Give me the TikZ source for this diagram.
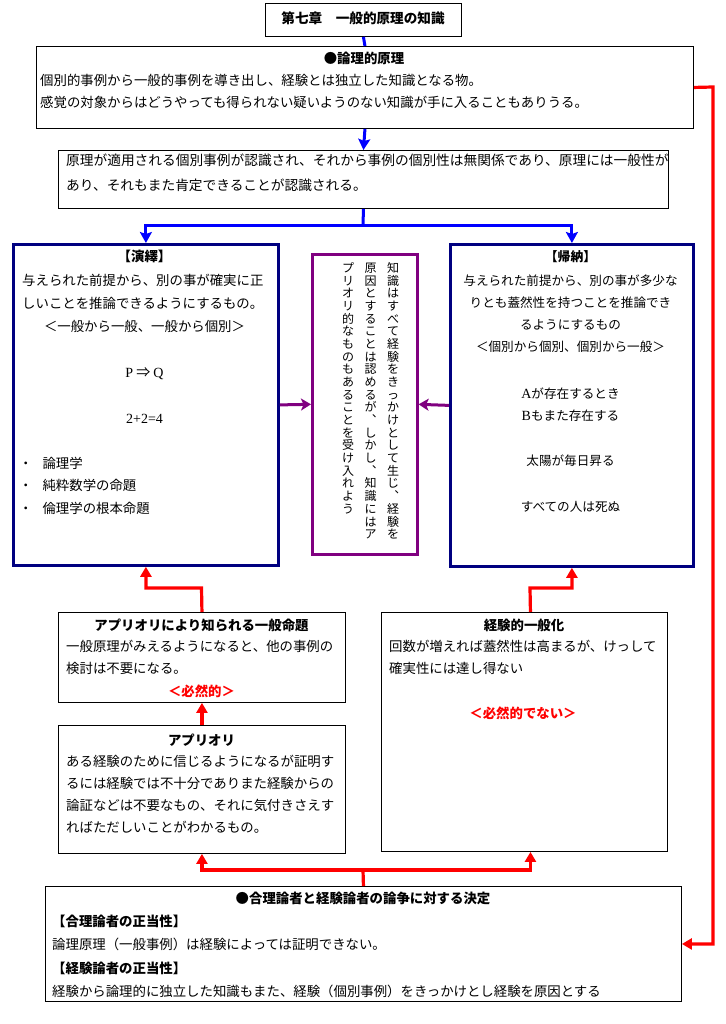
\documentclass[tikz,border=0pt]{standalone}
\usepackage{fontspec}
\setmainfont{Noto Sans CJK JP}
\newfontfamily\latin{Liberation Serif}
\usetikzlibrary{arrows.meta,calc}
\definecolor{bluec}{RGB}{0,0,255}
\definecolor{navyc}{RGB}{0,0,128}
\definecolor{redc}{RGB}{255,0,0}
\definecolor{purpc}{RGB}{128,0,128}
\newcommand\fs[1]{\fontsize{#1pt}{#1pt}\selectfont}
\newcommand\linesL[2]{\vtop{\baselineskip=#1\lineskiplimit=-100pt\lineskip=0pt\halign{##\hfil\cr#2\crcr}}}
\newcommand\linesC[2]{\vtop{\baselineskip=#1\lineskiplimit=-100pt\lineskip=0pt\halign{\hfil##\hfil\cr#2\crcr}}}
\ExplSyntaxOn
\cs_new_protected:Npn \my_vchar:n #1
  {
    \str_if_eq:nnTF {#1} {、}
      { \hbox_to_wd:nn {1em} { \hfil ︑ \hfil } }
      { \hbox_to_wd:nn {1em} { \hfil #1 \hfil } }
  }
\NewDocumentCommand \vcol { m }
  {
    \vtop
      {
        \hsize=1em
        \baselineskip=12.67pt
        \lineskiplimit=-100pt
        \lineskip=0pt
        \tl_map_function:nN {#1} \my_vchar:n
      }
  }
\ExplSyntaxOff
\tikzset{
  thinbox/.style={draw=black, line width=0.9pt, fill=white, inner sep=0pt, anchor=north west},
  navybox/.style={draw=navyc, line width=2.8pt, fill=white, inner sep=0pt, anchor=north west},
  purpbox/.style={draw=purpc, line width=2.6pt, fill=white, inner sep=0pt, anchor=north west},
  blueln/.style={draw=bluec, line width=3pt},
  bluearr/.style={blueln, -{Stealth[width=12pt,length=11pt,inset=2pt]}},
  redln/.style={draw=redc, line width=3.2pt},
  redarr/.style={redln, -{Triangle[width=11pt,length=10pt]}},
  purparr/.style={draw=purpc, line width=3pt, -{Stealth[width=12pt,length=10pt,inset=2.5pt]}},
  txt/.style={inner sep=0pt, font=\fs{13.4}},
  btxt/.style={inner sep=0pt, font=\fs{13.4}\bfseries},
  rtxt/.style={inner sep=0pt, font=\fs{13.4}\bfseries, text=redc},
}
\begin{document}
\begin{tikzpicture}[x=1pt,y=-1pt]
\useasboundingbox[fill=white] (0,0) rectangle (725,1024);
% boxes
\node[thinbox, minimum width=196pt, minimum height=33pt] (title) at (265,3) {};
\node[thinbox, minimum width=657pt, minimum height=82pt] (top) at (36,46) {};
\node[thinbox, minimum width=610pt, minimum height=58pt] (sec) at (58,150) {};
\node[navybox, minimum width=265pt, minimum height=321pt] (ded) at (12,243) {};
\node[purpbox, minimum width=105pt, minimum height=300pt] (mid) at (311,253) {};
\node[navybox, minimum width=243pt, minimum height=322pt] (ind) at (449,243) {};
\node[thinbox, minimum width=287pt, minimum height=90pt] (apg) at (58,612) {};
\node[thinbox, minimum width=287pt, minimum height=128pt] (apr) at (58,725) {};
\node[thinbox, minimum width=286pt, minimum height=239pt] (emp) at (381,612) {};
\node[thinbox, minimum width=636pt, minimum height=115pt] (bot) at (45,886) {};
% texts
\node[btxt, font=\fs{13.6}\bfseries, anchor=base] (titlet) at (363,24) {第七章　一般的原理の知識};
\node[btxt, anchor=base] (topt) at (364,64) {●論理的原理};
\node[txt, anchor=base west] (topb) at (40,86) {\linesL{22pt}{個別的事例から一般的事例を導き出し、経験とは独立した知識となる物。\cr 感覚の対象からはどうやっても得られない疑いようのない知識が手に入ることもありうる。}};
\node[txt, font=\fs{13.7}, anchor=base west] (secb) at (66,166) {\linesL{25pt}{原理が適用される個別事例が認識され、それから事例の個別性は無関係であり、原理には一般性が\cr あり、それもまた肯定できることが認識される。}};
% deduction
\node[btxt, anchor=base] (dedt) at (144.5,261) {【演繹】};
\node[txt, anchor=base west] (dedb) at (22,285) {\linesL{23pt}{与えられた前提から、別の事が確実に正\cr しいことを推論できるようにするもの。}};
\node[txt, anchor=base] (dedc) at (144.5,331) {＜一般から一般、一般から個別＞};
\node[txt, font=\fs{14}, anchor=base] (dedpq) at (144.5,377) {{\latin P} ⇒ {\latin Q}};
\node[txt, font=\fs{14}\latin, anchor=base] (ded224) at (144.5,423) {2+2=4};
\node[txt, anchor=base west] (dedl) at (19,468) {\linesL{22.5pt}{・\hspace{10pt}論理学\cr ・\hspace{10pt}純粋数学の命題\cr ・\hspace{10pt}倫理学の根本命題}};
% middle vertical text
\node[txt, font=\fs{12}, anchor=base] (mc1) at (393,272.6) {\vcol{知識はすべて経験をきっかけとして生じ、経験を}};
\node[txt, font=\fs{12}, anchor=base] (mc2) at (370.5,272.6) {\vcol{原因とすることは認めるが、しかし、知識にはア}};
\node[txt, font=\fs{12}, anchor=base] (mc3) at (348,272.6) {\vcol{プリオリ的なものもあることを受け入れよう}};
% induction
\node[btxt, font=\fs{12.8}\bfseries, anchor=base] (indt) at (570.5,261) {【帰納】};
\node[txt, font=\fs{12.6}, anchor=base] (indb) at (570.5,285) {\linesC{22pt}{与えられた前提から、別の事が多少な\cr りとも蓋然性を持つことを推論でき\cr るようにするもの\cr ＜個別から個別、個別から一般＞}};
\node[txt, font=\fs{12.6}, anchor=base] (indab) at (570.5,398) {\linesC{22pt}{{\latin\fs{14}A}が存在するとき\cr {\latin\fs{14}B}もまた存在する}};
\node[txt, font=\fs{12.6}, anchor=base] (indsun) at (570.5,465) {太陽が毎日昇る};
\node[txt, font=\fs{12.6}, anchor=base] (indall) at (570.5,511) {すべての人は死ぬ};
% a priori general
\node[btxt, anchor=base] (apgt) at (201.5,630) {アプリオリにより知られる一般命題};
\node[txt, anchor=base west] (apgb) at (66,651) {\linesL{22pt}{一般原理がみえるようになると、他の事例の\cr 検討は不要になる。}};
\node[rtxt, anchor=base] (apgr) at (201.5,696) {＜必然的＞};
% a priori
\node[btxt, anchor=base] (aprt) at (201.5,745) {アプリオリ};
\node[txt, anchor=base west] (aprb) at (66,766) {\linesL{22pt}{ある経験のために信じるようになるが証明す\cr るには経験では不十分でありまた経験からの\cr 論証などは不要なもの、それに気付きさえす\cr ればただしいことがわかるもの。}};
% empirical
\node[btxt, anchor=base] (empt) at (524,630) {経験的一般化};
\node[txt, anchor=base west] (empb) at (389,651) {\linesL{22pt}{回数が増えれば蓋然性は高まるが、けっして\cr 確実性には達し得ない}};
\node[rtxt, anchor=base] (empr) at (523,718) {＜必然的でない＞};
% bottom
\node[btxt, anchor=base] (bott) at (363,903) {●合理論者と経験論者の論争に対する決定};
\node[btxt, anchor=base west] (both1) at (52,926) {【合理論者の正当性】};
\node[txt, anchor=base west] (botl1) at (52,949) {論理原理（一般事例）は経験によっては証明できない。};
\node[btxt, anchor=base west] (both2) at (52,973) {【経験論者の正当性】};
\node[txt, anchor=base west] (botl2) at (52,996) {経験から論理的に独立した知識もまた、経験（個別事例）をきっかけとし経験を原因とする};
% connectors
\draw[blueln] (title.south) -- (top.north);
\draw[bluearr] (top.south) -- (sec.north);
\coordinate (bsplit) at (363,226);
\draw[blueln] (sec.south) -- (bsplit);
\draw[bluearr] (bsplit) -| (ded.north);
\draw[bluearr] (bsplit) -| (ind.north);
\draw[purparr] (ded.east) -- (mid.west);
\draw[purparr] (ind.west) -- (mid.east);
\coordinate (lj) at (201.5,588);
\draw[redarr] (apg.north) -- (lj) -| (ded.south);
\coordinate (rj) at (530,588);
\draw[redarr] ($(emp.north)+(6,0)$) -- (rj) -| (ind.south);
\draw[redarr] (apr.north) -- (apg.south);
\coordinate (bj) at (363,870);
\draw[redln] (bot.north) -- (bj);
\draw[redarr] (bj) -| (apr.south);
\draw[redarr] (bj) -| ($(emp.south)+(6,0)$);
\coordinate (rr1) at (713,87);
\draw[redarr] (top.east) -- (rr1) |- (bot.east);
\end{tikzpicture}
\end{document}
